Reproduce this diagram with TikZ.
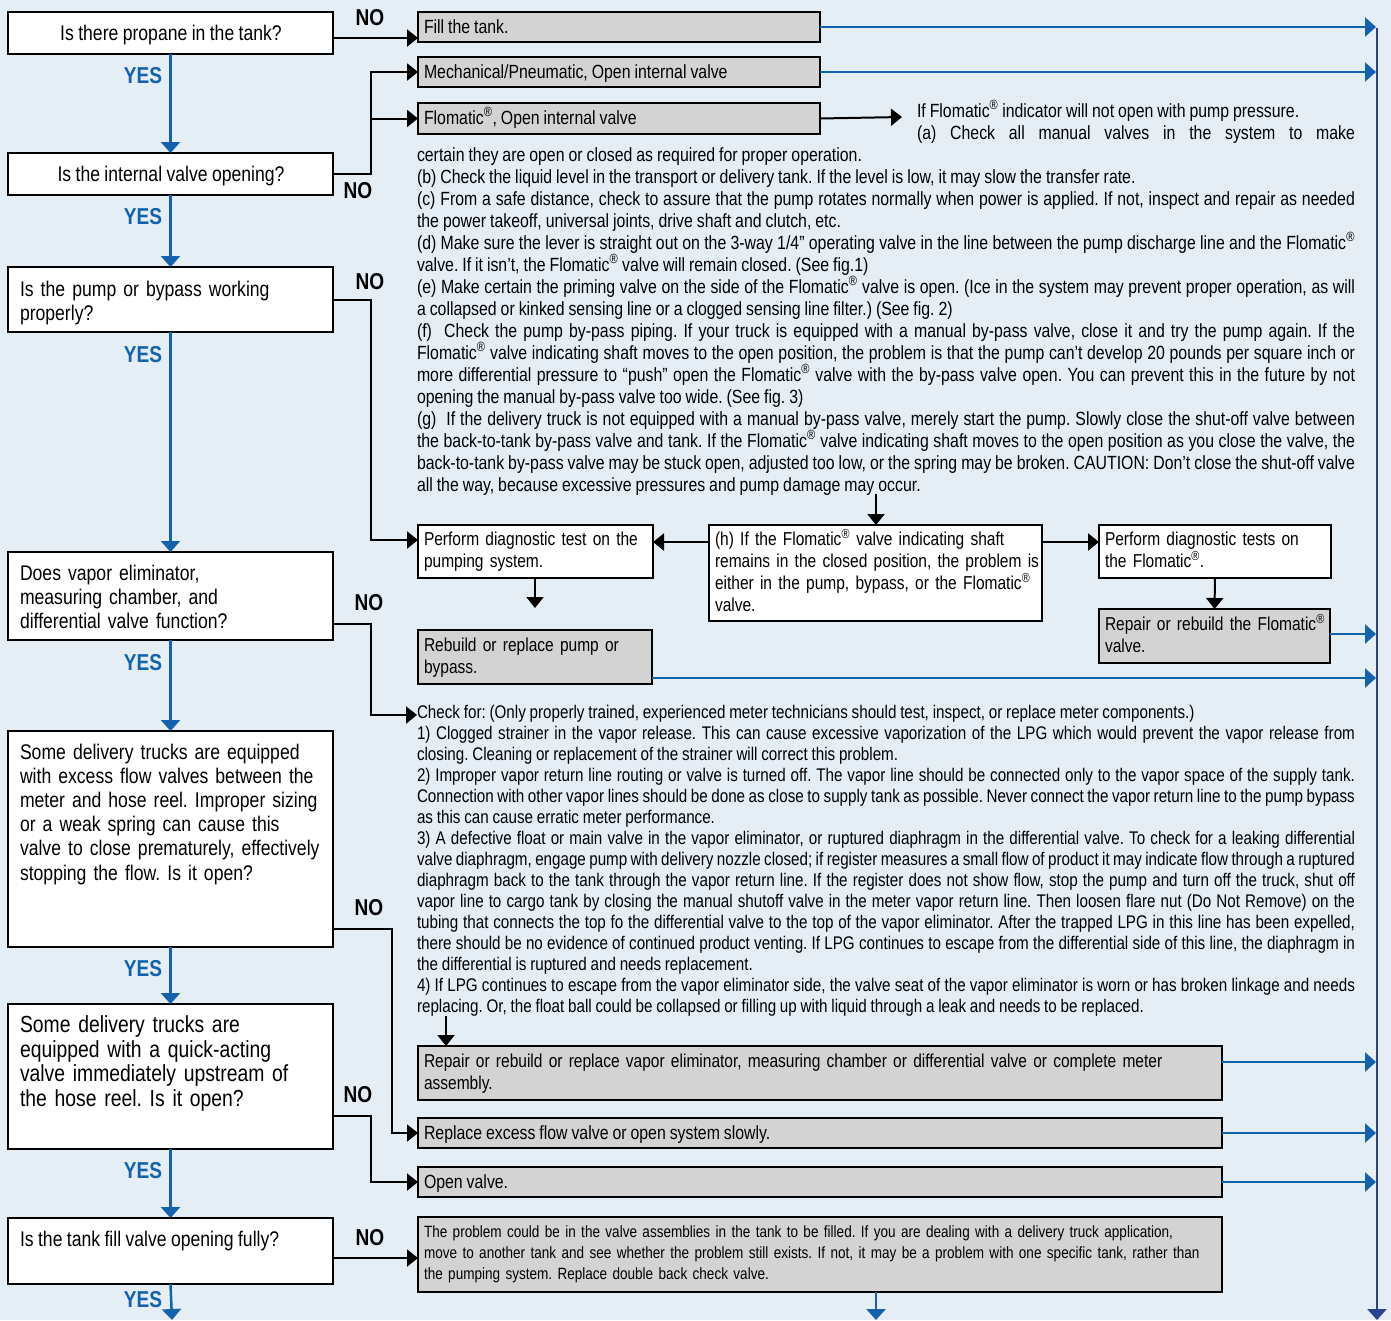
\documentclass[tikz,border=0pt]{standalone}
\usepackage{fontspec}
\setmainfont{Liberation Sans}[FakeStretch=0.83, WordSpace=0.9]
\usetikzlibrary{arrows.meta}
\definecolor{bgc}{HTML}{E5EDF5}
\definecolor{boxgray}{HTML}{D3D3D3}
\definecolor{blu}{HTML}{1262AE}
\definecolor{navy}{HTML}{2C4190}
\tolerance=10000 \hbadness=10000 \hyphenpenalty=10000 \exhyphenpenalty=10000
\frenchspacing
\newcommand\rg{\textsuperscript{®}}
\newcommand\fPara{\fontsize{19.1}{22}\selectfont}
\newcommand\fBox{\fontsize{18.7}{22}\selectfont}
\newcommand\fChk{\fontsize{18.3}{21}\selectfont}
\newcommand\fQ{\fontsize{21.2}{24.2}\selectfont}
\newcommand\fQbig{\fontsize{23.3}{24.5}\selectfont}
\newcommand\fSmall{\fontsize{16.3}{21}\selectfont}
\newcommand\fLab{\fontsize{23}{24}\selectfont\bfseries}
\newcommand\mkbox[6]{\node[#1, minimum width={#5-#3}, minimum height={#6-#4}] (#2) at ({(#3+#5)/2},{(#4+#6)/2}) {};}
\tikzset{
  qbox/.style={draw=black, line width=2.5pt, fill=white, rectangle, inner sep=0pt, outer sep=0pt},
  wbox/.style={qbox},
  gbox/.style={qbox, fill=boxgray},
  txt/.style={inner sep=0pt, outer sep=0pt, anchor=base west, font=\fPara},
  yeslab/.style={inner sep=0pt, text=blu, font=\fLab},
  nolab/.style={inner sep=0pt, text=black, font=\fLab},
  blk/.style={draw=black, line width=2pt, -{Triangle[length=11pt,width=17pt]}},
  bluarr/.style={draw=blu, line width=2.5pt, -{Triangle[length=11pt,width=19pt]}},
}
\begin{document}
\begin{tikzpicture}[x=1pt, y=-1pt]
\fill[bgc] (0,0) rectangle (1391,1320);
\useasboundingbox (0,0) rectangle (1391,1320);

% right collector line
\coordinate (rtop) at (1377,28);
\coordinate (rbot) at (1377,1320);
\draw[draw=navy, line width=2.5pt, -{Triangle[length=11pt,width=19pt]}] (rtop) -- (rbot);

% question boxes
\mkbox{qbox}{q1}{8}{12}{333}{54}
\mkbox{qbox}{q2}{8}{153}{333}{195}
\mkbox{qbox}{q3}{8}{267}{333}{332}
\mkbox{qbox}{q4}{8}{552}{333}{640}
\mkbox{qbox}{q5}{8}{731}{333}{947}
\mkbox{qbox}{q6}{8}{1004}{333}{1149}
\mkbox{qbox}{q7}{8}{1218}{333}{1284}

% action boxes
\mkbox{gbox}{fill}{418}{12}{820}{42}
\mkbox{gbox}{mech}{418}{57}{820}{87}
\mkbox{gbox}{flo}{418}{103}{820}{134}
\mkbox{wbox}{pd}{418}{525}{653}{578}
\mkbox{wbox}{hb}{709}{525}{1042}{621}
\mkbox{wbox}{pf}{1099}{525}{1331}{578}
\mkbox{gbox}{rf}{1099}{609}{1330}{663}
\mkbox{gbox}{rb}{418}{630}{652}{684}
\mkbox{gbox}{rv}{418}{1046}{1222}{1100}
\mkbox{gbox}{rex}{418}{1118}{1222}{1148}
\mkbox{gbox}{ov}{418}{1167}{1222}{1197}
\mkbox{gbox}{prob}{418}{1217}{1222}{1292}

% question texts
\node[txt, anchor=base, font=\fQ] (q1t) at (171,40) {Is there propane in the tank?};
\node[txt, anchor=base, font=\fQ] (q2t) at (171,181) {Is the internal valve opening?};
\node[txt, font=\fQ, text width=400pt] (q3t) at (20,296) {\raggedright Is the pump or bypass working\\ properly?};
\node[txt, font=\fQ, text width=400pt] (q4t) at (20,580) {\raggedright Does vapor eliminator,\\ measuring chamber, and\\ differential valve function?};
\node[txt, font=\fQ, text width=400pt] (q5t) at (20,759) {\raggedright Some delivery trucks are equipped\\ with excess flow valves between the\\ meter and hose reel. Improper sizing\\ or a weak spring can cause this\\ valve to close prematurely, effectively\\ stopping the flow. Is it open?};
\node[txt, font=\fQbig, text width=400pt] (q6t) at (20,1032.5) {\raggedright Some delivery trucks are\\ equipped with a quick-acting\\ valve immediately upstream of\\ the hose reel. Is it open?};
\node[txt, font=\fQ] (q7t) at (20,1246) {Is the tank fill valve opening fully?};

% YES / NO labels
\node[yeslab] (y1) at (143,76) {YES};
\node[yeslab] (y2) at (143,217) {YES};
\node[yeslab] (y3) at (143,355) {YES};
\node[yeslab] (y4) at (143,663) {YES};
\node[yeslab] (y5) at (143,969) {YES};
\node[yeslab] (y6) at (143,1171) {YES};
\node[yeslab] (y7) at (143,1300) {YES};
\node[nolab] (n1) at (370,18) {NO};
\node[nolab] (n2) at (358,191) {NO};
\node[nolab] (n3) at (370,282) {NO};
\node[nolab] (n4) at (369,603) {NO};
\node[nolab] (n5) at (369,908) {NO};
\node[nolab] (n6) at (358,1095) {NO};
\node[nolab] (n7) at (370,1238) {NO};

% action texts
\node[txt] (fillt) at (424,33) {Fill the tank.};
\node[txt] (mecht) at (424,78) {Mechanical/Pneumatic, Open internal valve};
\node[txt] (flot) at (424,124) {Flomatic\rg, Open internal valve};
\node[txt, font=\fBox, text width=400pt] (pdt) at (424,545) {\raggedright Perform diagnostic test on the\\ pumping system.};
\node[txt, font=\fBox, text width=400pt] (hbt) at (715,545) {\raggedright (h) If the Flomatic\rg{} valve indicating shaft\\ remains in the closed position, the problem is\\ either in the pump, bypass, or the Flomatic\rg\\ valve.};
\node[txt, font=\fBox, text width=280pt] (pft) at (1105,545) {\raggedright Perform diagnostic tests on\\ the Flomatic\rg.};
\node[txt, font=\fBox, text width=280pt] (rft) at (1105,630) {\raggedright Repair or rebuild the Flomatic\rg\\ valve.};
\node[txt, font=\fBox, text width=400pt] (rbt) at (424,651) {\raggedright Rebuild or replace pump or\\ bypass.};
\node[txt, font=\fBox, text width=900pt] (rvt) at (424,1067) {\raggedright Repair or rebuild or replace vapor eliminator, measuring chamber or differential valve or complete meter\\ assembly.};
\node[txt] (rext) at (424,1139) {Replace excess flow valve or open system slowly.};
\node[txt] (ovt) at (424,1188) {Open valve.};
\node[txt, font=\fSmall, text width=900pt] (probt) at (424,1237) {\raggedright The problem could be in the valve assemblies in the tank to be filled. If you are dealing with a delivery truck application,\\ move to another tank and see whether the problem still exists. If not, it may be a problem with one specific tank, rather than\\ the pumping system. Replace double back check valve.};

% Flomatic notes
\node[txt, text width=438pt, align=justify] (info) at (917,117) {If Flomatic\rg{} indicator will not open with pump pressure.\\ (a)\ Check all manual valves in the system to make\linebreak\mbox{}};
\node[txt, text width=938pt, align=justify] (para) at (417,161) {certain they are open or closed as required for proper operation.\\
(b) Check the liquid level in the transport or delivery tank. If the level is low, it may slow the transfer rate.\\
(c) From a safe distance, check to assure that the pump rotates normally when power is applied. If not, inspect and repair as needed\linebreak the power takeoff, universal joints, drive shaft and clutch, etc.\\
(d) Make sure the lever is straight out on the 3-way 1/4” operating valve in the line between the pump discharge line and the Flomatic\rg\linebreak valve. If it isn’t, the Flomatic\rg{} valve will remain closed. (See fig.1)\\
(e) Make certain the priming valve on the side of the Flomatic\rg{} valve is open. (Ice in the system may prevent proper operation, as will\linebreak a collapsed or kinked sensing line or a clogged sensing line filter.) (See fig. 2)\\
(f)\ \ Check the pump by-pass piping. If your truck is equipped with a manual by-pass valve, close it and try the pump again. If the\linebreak Flomatic\rg{} valve indicating shaft moves to the open position, the problem is that the pump can’t develop 20 pounds per square inch or\linebreak more differential pressure to “push” open the Flomatic\rg{} valve with the by-pass valve open. You can prevent this in the future by not\linebreak opening the manual by-pass valve too wide. (See fig. 3)\\
(g)\ \ If the delivery truck is not equipped with a manual by-pass valve, merely start the pump. Slowly close the shut-off valve between\linebreak the back-to-tank by-pass valve and tank. If the Flomatic\rg{} valve indicating shaft moves to the open position as you close the valve, the\linebreak back-to-tank by-pass valve may be stuck open, adjusted too low, or the spring may be broken. CAUTION: Don’t close the shut-off valve\linebreak all the way, because excessive pressures and pump damage may occur.};

\node[txt, font=\fChk, text width=938pt, align=justify] (chk) at (417,718) {Check for: (Only properly trained, experienced meter technicians should test, inspect, or replace meter components.)\\
1) Clogged strainer in the vapor release. This can cause excessive vaporization of the LPG which would prevent the vapor release from\linebreak closing. Cleaning or replacement of the strainer will correct this problem.\\
2) Improper vapor return line routing or valve is turned off. The vapor line should be connected only to the vapor space of the supply tank.\linebreak Connection with other vapor lines should be done as close to supply tank as possible. Never connect the vapor return line to the pump bypass\linebreak as this can cause erratic meter performance.\\
3) A defective float or main valve in the vapor eliminator, or ruptured diaphragm in the differential valve. To check for a leaking differential\linebreak valve diaphragm, engage pump with delivery nozzle closed; if register measures a small flow of product it may indicate flow through a ruptured\linebreak diaphragm back to the tank through the vapor return line. If the register does not show flow, stop the pump and turn off the truck, shut off\linebreak vapor line to cargo tank by closing the manual shutoff valve in the meter vapor return line. Then loosen flare nut (Do Not Remove) on the\linebreak tubing that connects the top fo the differential valve to the top of the vapor eliminator. After the trapped LPG in this line has been expelled,\linebreak there should be no evidence of continued product venting. If LPG continues to escape from the differential side of this line, the diaphragm in\linebreak the differential is ruptured and needs replacement.\\
4) If LPG continues to escape from the vapor eliminator side, the valve seat of the vapor eliminator is worn or has broken linkage and needs\linebreak replacing. Or, the float ball could be collapsed or filling up with liquid through a leak and needs to be replaced.};

% named free ends
\coordinate (infoend) at (902,117);
\coordinate (chkin) at (417,715);
\coordinate (pdout) at (535,608);
\coordinate (chkout) at (446,1016);
\coordinate (probout) at (876,1320);
\coordinate (q7out) at (172,1320);

% YES connectors
\draw[bluarr] (q1.south) -- (q2.north);
\draw[bluarr] (q2.south) -- (q3.north);
\draw[bluarr] (q3.south) -- (q4.north);
\draw[bluarr] (q4.south) -- (q5.north);
\draw[bluarr] (q5.south) -- (q6.north);
\draw[bluarr] (q6.south) -- (q7.north);
\draw[bluarr] (q7.south) -- (q7out);

% NO connectors
\draw[blk] (q1.east |- 0,38) -- (fill.west |- 0,38);
\draw[blk] (q2.east) -| (mech.west -| 371,0) -- (mech.west);
\draw[blk] (flo.west -| 371,0) -- (flo.west);
\draw[blk] (q3.east) -| (371,540) -- (pd.west |- 0,540);
\draw[blk] (q4.east |- 0,624) -| (371,715) -- (chkin);
\draw[blk] (q5.east |- 0,929) -| (392,1133) -- (rex.west);
\draw[blk] (q6.east |- 0,1116) -| (371,1182) -- (ov.west);
\draw[blk] (q7.east |- 0,1258) -- (prob.west |- 0,1258);

% diagnostic flow
\draw[blk] (flo.east) -- (infoend);
\draw[blk] (876,494) -- (hb.north -| 876,0);
\draw[blk] (hb.west |- 0,542) -- (pd.east |- 0,542);
\draw[blk] (hb.east |- 0,542) -- (pf.west |- 0,542);
\draw[blk] (pd.south -| pdout) -- (pdout);
\draw[blk] (pf.south) -- (rf.north);
\draw[blk] (chkout) -- (rv.north -| chkout);

% to the collector
\draw[bluarr] (fill.east) -- (fill.east -| 1376,0);
\draw[bluarr] (mech.east) -- (mech.east -| 1376,0);
\draw[bluarr] (rf.east |- 0,634) -- (1376,634);
\draw[bluarr] (rb.east |- 0,678) -- (1376,678);
\draw[bluarr] (rv.east |- 0,1062) -- (1376,1062);
\draw[bluarr] (rex.east) -- (rex.east -| 1376,0);
\draw[bluarr] (ov.east) -- (ov.east -| 1376,0);
\draw[bluarr] (prob.south -| probout) -- (probout);
\end{tikzpicture}
\end{document}
